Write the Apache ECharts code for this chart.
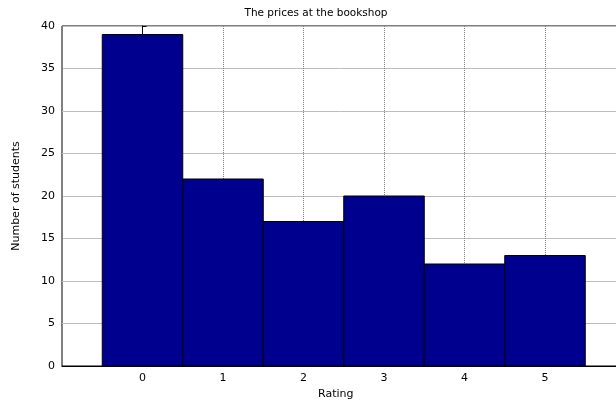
<!DOCTYPE html>
<html>
<head>
<meta charset="utf-8">
<script src="https://cdn.jsdelivr.net/npm/echarts@6/dist/echarts.min.js"></script>
<style>
html,body{margin:0;padding:0;background:#fff;}
#chart{width:616px;height:404px;}
</style>
</head>
<body>
<div id="chart"></div>
<script>
// Histogram of ratings
const ratings = [0, 1, 2, 3, 4, 5];
const students = [39, 22, 17, 20, 12, 13];
const yTicks = [0, 5, 10, 15, 20, 25, 30, 35, 40];

const FONT = '"DejaVu Sans", "Liberation Sans", Arial, sans-serif';
const chart = echarts.init(document.getElementById('chart'));

const barData = ratings.map((r, i) => [r, students[i]]);

chart.setOption({
  animation: false,
  title: {
    text: 'The prices at the bookshop',
    left: 311, top: 3, textAlign: 'center',
    textStyle: { fontFamily: FONT, fontSize: 10.5, fontWeight: 'normal', color: '#000' }
  },
  grid: {
    left: 62, top: 26, width: 563.5, height: 340,
    outerBoundsMode: 'none', containLabel: false,
    show: true, borderColor: '#000', borderWidth: 1, backgroundColor: '#fff'
  },
  xAxis: {
    type: 'value', min: -1, max: 6, interval: 1,
    name: 'Rating', nameLocation: 'middle', nameGap: 21,
    nameTextStyle: { fontFamily: FONT, fontSize: 11, color: '#000', padding: [0, 0, 0, -16] },
    axisLine: { show: true, onZero: false, lineStyle: { color: '#000' } },
    axisTick: { show: false },
    axisLabel: {
      fontFamily: FONT, fontSize: 11, color: '#000', margin: 7,
      formatter: v => (ratings.indexOf(v) >= 0 ? String(v) : '')
    },
    splitLine: { show: true, lineStyle: { color: '#808080', type: [1, 1], width: 1 } }
  },
  yAxis: {
    type: 'value', min: 0, max: 40, interval: 5,
    name: 'Number of students', nameLocation: 'middle', nameGap: 40,
    nameTextStyle: { fontFamily: FONT, fontSize: 11, color: '#000' },
    axisLine: { show: true, lineStyle: { color: '#000' } },
    axisTick: { show: true, inside: true, length: 4, lineStyle: { color: '#000' } },
    axisLabel: {
      fontFamily: FONT, fontSize: 11, color: '#000', margin: 7,
      formatter: v => (yTicks.indexOf(v) >= 0 ? String(v) : '')
    },
    splitLine: { show: true, lineStyle: { color: '#bdbdbd', width: 1 } }
  },
  series: [{
    type: 'custom',
    data: barData,
    renderItem: function (params, api) {
      const x = api.value(0), y = api.value(1);
      const p0 = api.coord([x - 0.5, y]);
      const p1 = api.coord([x + 0.5, 0]);
      return {
        type: 'rect',
        shape: { x: p0[0], y: p0[1], width: p1[0] - p0[0], height: p1[1] - p0[1] },
        style: { fill: '#00008f', stroke: '#000', lineWidth: 1 }
      };
    }
  }]
});
</script>
</body>
</html>
